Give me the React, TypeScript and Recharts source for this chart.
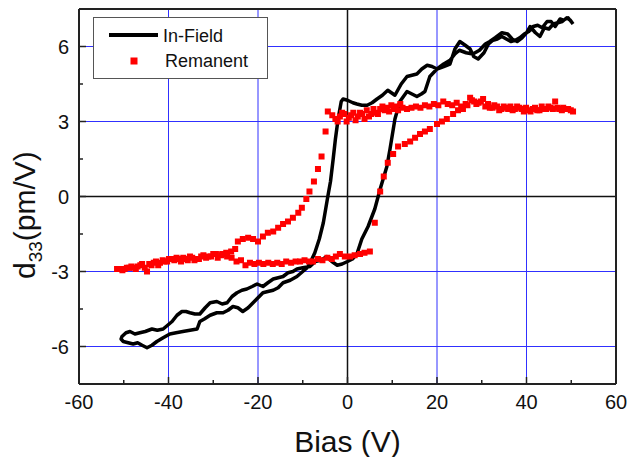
import { ComposedChart, Line, Scatter, XAxis, YAxis, ReferenceLine } from 'recharts'

const FONT = 'Arial, "Liberation Sans", sans-serif'

// In-Field loop: sweep from +50 V down to -50 V ...
const downBias = [50.4, 49.3, 48.2, 47.5, 46.4, 45.5, 44.6, 43.5, 42.5, 41.5, 40.5, 39.5, 38.5, 37.5, 36.5, 35.5, 34.5, 33.5, 32.5, 31.5, 30.5, 29.2, 28.2, 27.4, 26.3, 25.1, 24, 22.9, 21.5, 20, 18.9, 17.8, 16.6, 15.5, 14.4, 13.3, 12, 10.6, 9.8, 9, 7.8, 6.6, 5.5, 4.4, 3.2, 2.1, 1.2, 0, -1, -1.4, -2.1, -2.7, -3.2, -3.8, -4.4, -5.4, -6.3, -7.3, -8.2, -9, -10, -11.3, -12.8, -14.4, -15.5, -16.6, -17.8, -18.9, -20, -21.1, -22.2, -23.4, -24.5, -25.6, -26.7, -27.8, -29.2, -30.7, -32, -33, -33.6, -35.2, -36.8, -38.3, -39.7, -41.2, -42.6, -43.7, -44.8, -45.9, -46.9, -47.9, -49, -50.1, -50.6]
const downD33 = [6.9, 7.15, 7.05, 7.1, 6.8, 7.0, 7.0, 6.75, 6.85, 6.8, 6.6, 6.5, 6.35, 6.25, 6.2, 6.3, 6.4, 6.3, 6.25, 6.1, 5.75, 5.5, 5.6, 5.9, 6.05, 6.2, 5.9, 5.3, 5.2, 5.1, 5.2, 5.25, 5.1, 4.9, 4.85, 4.8, 4.5, 4.05, 4.15, 4.25, 4.05, 3.9, 3.75, 3.65, 3.65, 3.7, 3.75, 3.85, 3.9, 3.8, 3.1, 2.3, 1.5, 0.6, 0, -1.05, -1.7, -2.25, -2.6, -2.85, -3.0, -3.2, -3.35, -3.45, -3.65, -3.75, -3.8, -3.85, -4.05, -4.25, -4.45, -4.6, -4.45, -4.4, -4.55, -4.65, -4.65, -4.75, -4.9, -5.0, -5.3, -5.35, -5.4, -5.45, -5.5, -5.65, -5.8, -5.95, -6.05, -5.95, -5.85, -5.9, -5.85, -5.8, -5.7]
// ... and back up to +50 V
const upBias = [-50.4, -49.5, -48.6, -47.5, -46.4, -45.2, -43.7, -42.5, -41.2, -40.2, -39.2, -38.1, -37, -36.1, -35.2, -34.1, -33, -31.8, -30.7, -29.2, -28, -26.9, -25.8, -24.7, -23.6, -22.5, -21.3, -20.2, -18.9, -17.8, -16.6, -15.5, -14.4, -13.3, -12.2, -11.3, -10, -8.4, -7.2, -6, -4.6, -3.5, -2.3, -1.2, 0, 1.1, 2.1, 3.2, 4.6, 6.1, 7.3, 8.8, 9.5, 10.6, 11.7, 13.3, 14.4, 15.5, 16.5, 17.3, 18.4, 20, 21.5, 22.9, 24, 25, 26.5, 28, 29.5, 30.8, 31.8, 33, 34.5, 35.8, 36.8, 37.9, 39, 40, 40.8, 42, 43, 44, 45, 46, 47, 48, 49, 49.8, 50.4]
const upD33 = [-5.6, -5.45, -5.4, -5.5, -5.45, -5.4, -5.3, -5.35, -5.3, -5.15, -5.0, -4.75, -4.6, -4.6, -4.65, -4.7, -4.7, -4.45, -4.25, -4.2, -4.3, -4.25, -4.0, -3.85, -3.75, -3.7, -3.6, -3.5, -3.6, -3.45, -3.3, -3.25, -3.2, -3.05, -3.0, -2.9, -2.85, -2.8, -2.6, -2.55, -2.4, -2.6, -2.75, -2.7, -2.6, -2.5, -2.3, -1.7, -1.2, -0.5, 0.3, 1.2, 1.9, 3.1, 3.8, 4.2, 4.1, 4.0, 4.1, 4.2, 4.8, 5.1, 5.3, 5.45, 5.7, 5.85, 5.75, 5.7, 5.85, 6.1, 6.2, 6.35, 6.55, 6.5, 6.3, 6.2, 6.35, 6.55, 6.8, 6.55, 6.4, 6.75, 6.7, 6.9, 6.95, 7.0, 7.15, 7.05, 6.9]

// Remanent points, grouped by branch
const remTopBias = [50.4, 49.3, 48.2, 47.3, 46.4, 45.4, 44.4, 43.4, 42.4, 41.4, 40.4, 39.4, 38.4, 37.4, 36.4, 35.4, 34.4, 33.4, 32.4, 31.4, 30.3, 29.3, 28.3, 27.4, 26.4, 25.4, 24.4, 23.4, 22.4, 21.4, 20.3, 19.3, 18.3, 17.3, 16.3, 15.3, 14.3, 13.3, 12.3, 11.3, 10.3, 9.3, 8.3, 7.3, 6.3, 5.3, 4.3, 3.3, 2.3, 1.3, 0.3, -0.7, -1.7, -2.7, -3.4, -4.4]
const remTopD33 = [3.4, 3.5, 3.55, 3.5, 3.8, 3.55, 3.5, 3.6, 3.45, 3.5, 3.45, 3.4, 3.55, 3.5, 3.6, 3.55, 3.5, 3.6, 3.55, 3.7, 3.9, 3.75, 3.8, 3.95, 3.7, 3.6, 3.75, 3.65, 3.7, 3.8, 3.65, 3.7, 3.6, 3.65, 3.55, 3.6, 3.55, 3.5, 3.55, 3.45, 3.5, 3.4, 3.45, 3.5, 3.35, 3.3, 3.45, 3.3, 3.2, 3.35, 3.15, 3.3, 3.2, 3.1, 3.25, 3.4]
const remTop2Bias = [-2.2, -1.2, -0.2, 0.8, 1.8, 2.8, 3.8, 4.8, 5.8, 6.8, 7.8, 8.8, 9.8, 10.8, 11.8]
const remTop2D33 = [3.0, 3.35, 3.0, 3.25, 3.05, 3.35, 3.1, 3.2, 3.5, 3.3, 3.6, 3.55, 3.65, 3.6, 3.7]
const remLeftBias = [-4.9, -5.8, -6.6, -7.5, -8.5, -9.2, -10.2, -11, -12.2, -13.3, -14.4, -15.5, -16.6, -17.8, -18.9, -20, -21.1, -22.2, -23.4, -24.5, -25.1]
const remLeftD33 = [2.6, 1.6, 1.1, 0.6, 0.2, -0.1, -0.45, -0.65, -0.85, -1.0, -1.1, -1.25, -1.4, -1.45, -1.6, -1.8, -1.7, -1.65, -1.7, -1.8, -2.1]
const remTailBias = [-26, -27.1, -28.2, -29.4, -30.5, -31.6, -32.7, -33.7, -34.7, -35.7, -36.7, -37.6, -38.7, -39.9, -40.9, -41.9, -42.8, -43.8, -44.8, -45.9, -46.9, -47.9, -48.8, -49.8, -50.8, -51.5, -50.3, -49.3, -48.3, -47.3, -46.3, -45.3, -44.3, -43.3, -42.3, -41.3, -40.3, -39.3, -38.2, -37.2, -36.2, -35.2, -34.2, -33.2, -32.2, -31.1, -30, -29, -28, -26.9, -25.9]
const remTailD33 = [-2.2, -2.25, -2.35, -2.3, -2.4, -2.45, -2.4, -2.5, -2.45, -2.55, -2.45, -2.5, -2.55, -2.5, -2.6, -2.65, -2.6, -2.75, -3.0, -2.7, -2.8, -2.85, -2.85, -2.9, -2.9, -2.9, -2.95, -2.85, -2.8, -2.9, -2.75, -2.85, -2.7, -2.65, -2.75, -2.55, -2.6, -2.5, -2.45, -2.6, -2.5, -2.4, -2.55, -2.5, -2.35, -2.4, -2.3, -2.45, -2.3, -2.4, -2.45]
const remFlatBias = [-24.8, -23.8, -22.8, -21.8, -20.8, -19.8, -18.8, -17.7, -16.7, -15.7, -14.7, -13.7, -12.6, -11.6, -10.6, -9.6, -8.6, -7.7, -6.6, -5.6, -4.5, -3.5, -2.6, -1.7, -0.6, 0.6, 1.6, 2.8, 3.8, 5]
const remFlatD33 = [-2.6, -2.55, -2.75, -2.65, -2.7, -2.65, -2.7, -2.65, -2.7, -2.65, -2.7, -2.6, -2.65, -2.6, -2.6, -2.55, -2.6, -2.6, -2.5, -2.55, -2.45, -2.5, -2.4, -2.3, -2.4, -2.4, -2.35, -2.3, -2.25, -2.2]
const remRiseBias = [6.1, 7.3, 8.1, 9, 10.2, 11.3, 12.8, 14, 15.1, 16.2, 17.3, 18.4, 20, 21.1, 22.2, 23.6, 24.7, 25.8, 26.8, 27.8, 28.8, 29.8, 30.8, 31.8, 32.8, 33.9, 34.9, 35.9, 36.9, 37.9, 38.9, 39.9, 40.9, 41.9, 42.9, 43.9, 44.9, 45.9, 46.9, 47.9, 48.9, 49.9]
const remRiseD33 = [-1.05, 0.2, 0.8, 1.35, 1.7, 2.0, 2.1, 2.2, 2.35, 2.5, 2.6, 2.7, 2.9, 3.0, 3.1, 3.3, 3.45, 3.5, 3.65, 3.85, 3.7, 3.8, 3.6, 3.55, 3.65, 3.45, 3.6, 3.5, 3.45, 3.6, 3.5, 3.55, 3.4, 3.55, 3.45, 3.5, 3.6, 3.5, 3.55, 3.45, 3.5, 3.45]

const xTicks = [-60, -50, -40, -30, -20, -10, 0, 10, 20, 30, 40, 50, 60]
const xLabels = [-60, -40, -20, 0, 20, 40, 60]
const yTicks = [-6, -4.5, -3, -1.5, 0, 1.5, 3, 4.5, 6]
const yLabels = [-6, -3, 0, 3, 6]
const gridX = [-40, -20, 20, 40]
const gridY = [-6, -3, 3, 6]

const pair = (xs: number[], ys: number[]) => xs.map((x, i) => ({ x, y: ys[i] }))

const inField = [...pair(downBias, downD33), ...pair(upBias, upD33)]
const remanent = [
  ...pair(remTopBias, remTopD33),
  ...pair(remTop2Bias, remTop2D33),
  ...pair(remLeftBias, remLeftD33),
  ...pair(remTailBias, remTailD33),
  ...pair(remFlatBias, remFlatD33),
  ...pair(remRiseBias, remRiseD33),
]

const XTick = (props: any) => {
  const { x, y, payload } = props
  const major = xLabels.includes(payload.value)
  return (
    <g>
      <line x1={x} x2={x} y1={y} y2={y - (major ? 7 : 4)} stroke="#222" strokeWidth={1.5} />
      {major && (
        <text x={x} y={y + 25} textAnchor="middle" fontSize={20} fontFamily={FONT} fill="#111">
          {payload.value}
        </text>
      )}
    </g>
  )
}

const YTick = (props: any) => {
  const { x, y, payload } = props
  const major = yLabels.includes(payload.value)
  return (
    <g>
      <line x1={x} x2={x + (major ? 7 : 4)} y1={y} y2={y} stroke="#222" strokeWidth={1.5} />
      {major && (
        <text x={x - 10} y={y + 7} textAnchor="end" fontSize={20} fontFamily={FONT} fill="#111">
          {payload.value}
        </text>
      )}
    </g>
  )
}

const YLabel = () => (
  <text transform="rotate(-90, 35, 279)" x={35} y={279} fontSize={30} fontFamily={FONT} fill="#111">
    d<tspan fontSize={19} dy={7}>33</tspan>
    <tspan dy={-7}>(pm/V)</tspan>
  </text>
)

const RedSquare = (props: any) => (
  <rect x={props.cx - 3} y={props.cy - 3} width={6} height={6} fill="#ff0000" />
)

export default function App() {
  return (
    <div style={{ position: 'absolute', left: 0, top: 0, width: 629, height: 457, background: '#fff' }}>
      <ComposedChart width={629} height={457} margin={{ top: 9, right: 13, bottom: 0, left: 0 }}>
        <XAxis
          dataKey="x"
          type="number"
          domain={[-60, 60]}
          ticks={xTicks}
          interval={0}
          tickSize={0}
          tickMargin={0}
          tick={<XTick />}
          height={73}
          axisLine={{ stroke: '#222', strokeWidth: 2 }}
          tickLine={false}
          allowDataOverflow
          label={{ value: 'Bias (V)', position: 'insideBottom', offset: 5, fontSize: 30, fontFamily: FONT, fill: '#111' }}
        />
        <YAxis
          type="number"
          domain={[-7.5, 7.5]}
          ticks={yTicks}
          interval={0}
          tickSize={0}
          tickMargin={0}
          tick={<YTick />}
          width={79}
          axisLine={{ stroke: '#222', strokeWidth: 2 }}
          tickLine={false}
          allowDataOverflow
          label={<YLabel />}
        />
        {gridX.map((v) => (
          <ReferenceLine key={`gx${v}`} x={v} stroke="#3030ff" strokeWidth={1} />
        ))}
        {gridY.map((v) => (
          <ReferenceLine key={`gy${v}`} y={v} stroke="#3030ff" strokeWidth={1} />
        ))}
        <ReferenceLine x={0} stroke="#111" strokeWidth={1.5} />
        <ReferenceLine y={0} stroke="#111" strokeWidth={1.5} />
        <ReferenceLine x={60} stroke="#222" strokeWidth={2} />
        <ReferenceLine y={7.5} stroke="#222" strokeWidth={2} />
        <Scatter data={remanent} dataKey="y" shape={<RedSquare />} isAnimationActive={false} />
        <Line
          data={inField}
          dataKey="y"
          stroke="#000"
          strokeWidth={3.5}
          strokeLinejoin="round"
          dot={false}
          isAnimationActive={false}
        />
      </ComposedChart>
      <div
        style={{
          position: 'absolute',
          left: 93,
          top: 17,
          width: 175,
          height: 62,
          border: '1px solid #555',
          background: '#fff',
          boxSizing: 'border-box',
        }}
      >
        <svg width={175} height={62} style={{ position: 'absolute', left: -1, top: -1 }}>
          <line x1={16} x2={65} y1={18} y2={18} stroke="#000" strokeWidth={4} />
          <text x={70} y={25} fontSize={18} fontFamily={FONT} fill="#111">In-Field</text>
          <rect x={37.5} y={40.5} width={7} height={7} fill="#ff0000" />
          <text x={72} y={50} fontSize={18} fontFamily={FONT} fill="#111">Remanent</text>
        </svg>
      </div>
    </div>
  )
}
